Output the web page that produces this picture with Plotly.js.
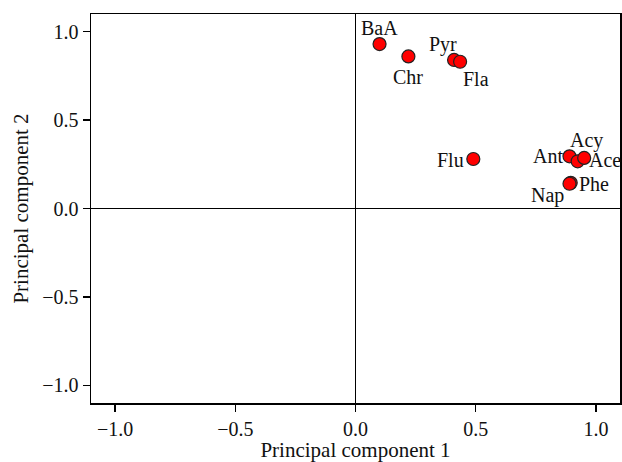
<!DOCTYPE html>
<html>
<head>
<meta charset="utf-8">
<script src="https://cdn.plot.ly/plotly-3.0.1.min.js"></script>
<style>html,body{margin:0;padding:0;background:#fff;}#chart{width:622px;height:462px;}</style>
</head>
<body>
<div id="chart"></div>
<script>
var names = ["BaA", "Chr", "Pyr", "Fla", "Flu", "Ant", "Acy", "Ace", "Phe", "Nap"];
var pc1 = [0.10, 0.22, 0.41, 0.435, 0.49, 0.89, 0.924, 0.951, 0.895, 0.89];
var pc2 = [0.93, 0.86, 0.84, 0.83, 0.28, 0.295, 0.267, 0.286, 0.145, 0.14];
var xTicks = [-1.0, -0.5, 0.0, 0.5, 1.0];
var yTicks = [-1.0, -0.5, 0.0, 0.5, 1.0];
var tickText = ["\u22121.0", "\u22120.5", "0.0", "0.5", "1.0"];

// label offsets in pixels (style only)
var labelShift = [[0, 16], [0, -21], [-11, 15], [16, -17], [-23, -1],
                  [-22, 0], [9, 21], [21, -2], [23, -1], [-22, -12]];

var font = "Liberation Serif, Times New Roman, serif";
var trace = {
  x: pc1, y: pc2, mode: "markers", type: "scatter",
  marker: {size: 13, color: "#ff0000", line: {color: "#222", width: 1.2}},
  cliponaxis: false, hoverinfo: "none"
};
var annotations = names.map(function (n, i) {
  return {x: pc1[i], y: pc2[i], xref: "x", yref: "y", text: n, showarrow: false,
    xanchor: "center", yanchor: "middle", xshift: labelShift[i][0], yshift: labelShift[i][1],
    font: {family: font, size: 20, color: "#111"}};
});
var axisCommon = {
  range: [-1.1, 1.1], showgrid: false, zeroline: true, zerolinecolor: "#000", zerolinewidth: 1.5,
  showline: true, mirror: true, linecolor: "#000", linewidth: 1.5,
  ticks: "outside", ticklen: 7, tickwidth: 1.2, tickcolor: "#000",
  tickfont: {family: font, size: 20, color: "#111"}, tickmode: "array", ticktext: tickText
};
var layout = {
  width: 622, height: 462, paper_bgcolor: "#fff", plot_bgcolor: "#fff",
  margin: {l: 91, r: 2, t: 14, b: 59},
  showlegend: false, annotations: annotations,
  xaxis: Object.assign({}, axisCommon, {tickvals: xTicks,
    title: {text: "Principal component 1", font: {family: font, size: 21, color: "#111"}, standoff: 5}}),
  yaxis: Object.assign({}, axisCommon, {tickvals: yTicks,
    title: {text: "Principal component 2", font: {family: font, size: 21, color: "#111"}, standoff: 8}})
};
Plotly.newPlot("chart", [trace], layout, {staticPlot: true, displayModeBar: false});
</script>
</body>
</html>
